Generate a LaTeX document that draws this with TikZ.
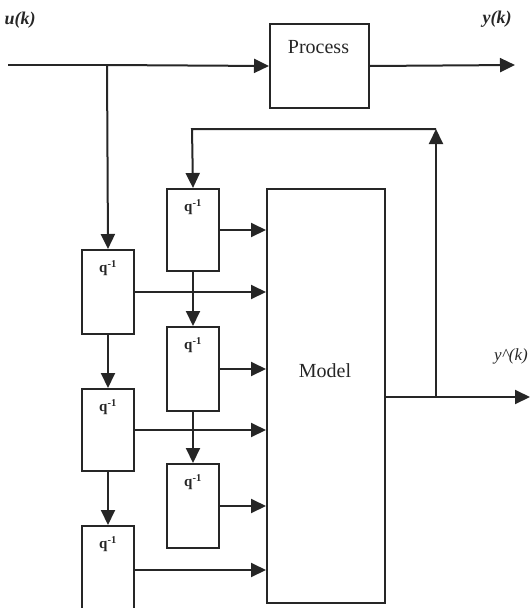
\documentclass[tikz,border=0pt]{standalone}
\usepackage{fontspec}
\setmainfont{Liberation Serif}
\usetikzlibrary{arrows.meta}
\colorlet{ink}{black!85}
\begin{document}
\begin{tikzpicture}[x=1pt,y=-1pt,
  blk/.style={draw=ink, line width=2pt, rectangle, inner sep=0pt, anchor=north west},
  qbox/.style={blk, minimum width=52pt, minimum height=84pt},
  ln/.style={draw=ink, line width=2pt},
  arr/.style={draw=ink, fill=ink, line width=2pt, -{Triangle[length=15pt,width=14pt]}},
  qlab/.style={font=\fontsize{15}{15}\selectfont\bfseries, text=ink, inner sep=0pt},
  big/.style={font=\fontsize{20}{22}\selectfont, text=ink, inner sep=0pt},
  sig/.style={font=\fontsize{18}{20}\selectfont\bfseries\itshape, text=ink, inner sep=0pt},
  sig2/.style={font=\fontsize{17}{20}\selectfont\itshape, text=ink, inner sep=0pt}
]
\useasboundingbox (0,0) rectangle (532,608);

% labels
\node[sig] (ulab) at (20,20) {u(k)};
\node[sig] (ylab) at (497,19) {y(k)};
\node[sig2] (yhlab) at (511,356) {y\^{}(k)};

% process
\node[blk, minimum width=99pt, minimum height=84pt] (P) at (269,23) {};
\node[big] (Ptxt) at (318.5,47) {Process};
\coordinate (uin) at (8,65);
\coordinate (ubr) at (107,65);
\coordinate (yout) at (515,65);
\draw[ln] (uin) -- (ubr);
\draw[arr] (ubr) -- (P.west);
\draw[arr] (P.east) -- (yout);

% delay boxes left column
\node[qbox] (L1) at (81,249) {};
\node[qbox, minimum height=82pt] (L2) at (81,388) {};
\node[qbox, minimum height=88pt] (L3) at (81,525) {};
% middle column
\node[qbox, minimum height=82pt] (M1) at (166,188) {};
\node[qbox] (M2) at (166,326) {};
\node[qbox] (M3) at (166,463) {};

\foreach \b in {L1,L2,L3,M1,M2,M3}{
  \node[qlab] (\b t) at ([yshift=-19pt]\b.north) {q\textsuperscript{-1}};
}

% model
\node[blk, minimum width=118pt, minimum height=414pt] (Mod) at (266,188) {};
\node[big] (Modtxt) at (325,371) {Model};

% chains
\draw[arr] (ubr) -- (L1.north);
\draw[arr] (L1.south) -- (L2.north);
\draw[arr] (L2.south) -- (L3.north);
\draw[arr] (M1.south) -- (M2.north);
\draw[arr] (M2.south) -- (M3.north);

% into model
\foreach \b in {M1,L1,M2,L2,M3,L3}{
  \draw[arr] (\b.east) -- (\b.east -| Mod.west);
}

% output and feedback
\coordinate (obr) at (436,397);
\coordinate (otip) at (530,397);
\coordinate (ftop) at (436,129);
\coordinate (fleft) at (192,129);
\draw[ln] (obr -| Mod.east) -- (obr);
\draw[arr] (obr) -- (otip);
\draw[arr] (obr) -- (ftop);
\draw[arr, fill=none] (ftop) -- (fleft) -- (M1.north);
\end{tikzpicture}
\end{document}
